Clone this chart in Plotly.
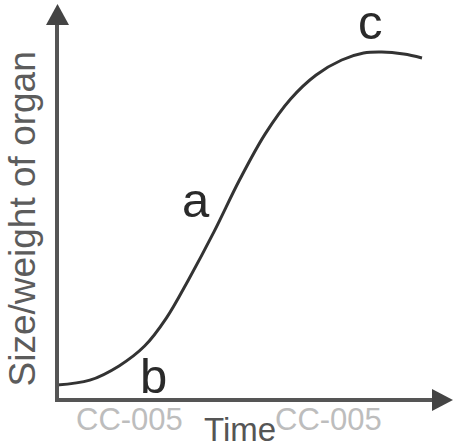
import plotly.graph_objects as go

# Data (time in arbitrary units, size in % of maximum)
time = [0.0, 0.9, 1.7, 2.4, 3.0, 3.6, 4.3, 5.0, 5.7, 6.4, 7.1, 7.8, 8.4, 8.9, 9.5, 10.0]
size = [4.3, 5.7, 9.8, 15.5, 23.6, 34.5, 48.3, 63.2, 76.4, 86.5, 93.4, 97.7, 99.7, 100.0, 99.4, 98.3]
phase_labels = ["a", "b", "c"]
phase_time = [3.8, 2.65, 8.6]
phase_size = [57.5, 7.0, 108.5]

W, H = 453, 444
X0, XK = 57, 36.5     # pixel of time 0, px per time unit
Y0, YK = 400, 3.48    # pixel of size 0, px per size unit

def px(x):
    return x / W

def py(y):
    return 1 - y / H

fig = go.Figure()
fig.add_trace(go.Scatter(
    x=time, y=size, mode="lines", line=dict(color="#333333", width=3, shape="spline", smoothing=1.0),
    hoverinfo="skip", showlegend=False))

axis_col = "#555555"
fig.add_shape(type="line", xref="paper", yref="paper", x0=px(57), x1=px(57), y0=py(401), y1=py(20),
              line=dict(color=axis_col, width=4))
fig.add_shape(type="line", xref="paper", yref="paper", x0=px(55), x1=px(436), y0=py(400), y1=py(400),
              line=dict(color=axis_col, width=4))
# arrowheads
fig.add_shape(type="path", xref="paper", yref="paper",
              path=f"M {px(46)} {py(25)} L {px(57.5)} {py(4)} L {px(69)} {py(25)} Z",
              fillcolor="#444444", line=dict(width=0))
fig.add_shape(type="path", xref="paper", yref="paper",
              path=f"M {px(432)} {py(389)} L {px(453)} {py(400)} L {px(432)} {py(411)} Z",
              fillcolor="#444444", line=dict(width=0))

annotations = []
for lab, t, s in zip(phase_labels, phase_time, phase_size):
    annotations.append(dict(x=t, y=s, xref="x", yref="y", text=lab, showarrow=False,
                            xanchor="center", yanchor="middle",
                            font=dict(family="Liberation Sans, Arial", size=49, color="#2a2a2a")))
annotations.append(dict(x=px(22), y=py(219.5), xref="paper", yref="paper", text="Size/weight of organ",
                        showarrow=False, textangle=-90, xanchor="center", yanchor="middle",
                        font=dict(family="Liberation Sans, Arial", size=37, color="#5c5c5c")))
annotations.append(dict(x=px(240), y=py(429), xref="paper", yref="paper", text="Time",
                        showarrow=False, xanchor="center", yanchor="middle",
                        font=dict(family="Liberation Sans, Arial", size=33, color="#555555")))
for cx in [129, 328]:
    annotations.append(dict(x=px(cx), y=py(419), xref="paper", yref="paper", text="CC-005",
                            showarrow=False, xanchor="center", yanchor="middle",
                            font=dict(family="Liberation Sans, Arial", size=31, color="#bdbdbd")))
fig.update_layout(annotations=annotations)

fig.update_layout(
    width=W, height=H,
    margin=dict(l=0, r=0, t=0, b=0, pad=0),
    paper_bgcolor="white", plot_bgcolor="white",
    xaxis=dict(visible=False, range=[-X0 / XK, (W - X0) / XK], fixedrange=True),
    yaxis=dict(visible=False, range=[(Y0 - H) / YK, Y0 / YK], fixedrange=True),
    showlegend=False,
)

fig.write_html("out.html", config={"displayModeBar": False},
               post_script="document.body.style.margin='0';document.body.style.overflow='hidden';")
